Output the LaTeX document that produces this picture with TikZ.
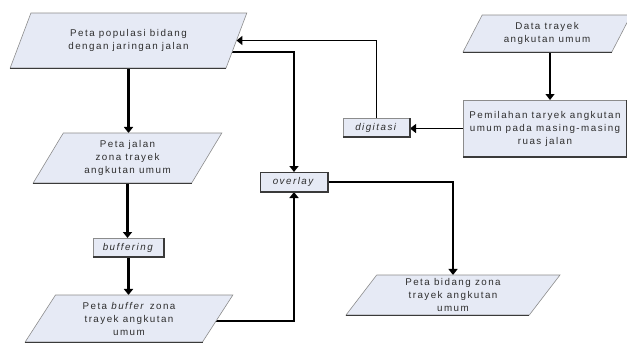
\documentclass[tikz,border=0pt]{standalone}
\usepackage{fontspec}
\setmainfont{Liberation Sans}[LetterSpace=15]
\usetikzlibrary{shapes.geometric,arrows.meta,backgrounds,calc}
\definecolor{boxfill}{HTML}{E6EAF5}
\definecolor{boxline}{HTML}{8C8C8C}
\definecolor{boxshade}{HTML}{3A3A3A}
\definecolor{txt}{HTML}{2E2E2E}
\tikzset{
  lbl/.style={font=\fontsize{9.8}{13}\selectfont, text=txt, align=center},
  dataio/.style={lbl, trapezium, trapezium left angle=60, trapezium right angle=120,
    trapezium stretches=true, draw=boxline, line width=0.6pt, fill=boxfill,
    inner sep=0pt, outer sep=0pt},
  procbox/.style={lbl, rectangle, draw=boxline, line width=0.6pt, fill=boxfill,
    inner sep=0pt, outer sep=0pt},
  shade/.style={draw=boxshade, line width=1.2pt},
  flow/.style={line width=2.2pt, -{Triangle[width=9pt,length=6pt]}},
  flowthin/.style={line width=1.1pt, -{Triangle[width=9pt,length=6pt]}},
}
\begin{document}
\begin{tikzpicture}[x=1pt, y=-1pt]
\useasboundingbox (0,0) rectangle (627,343);

% input / output maps
\node[dataio, minimum width=237pt, minimum height=55pt] (pop) at (128.5,40.5)
  {Peta populasi bidang\\dengan jaringan jalan};
\node[dataio, minimum width=189pt, minimum height=50pt] (jalan) at (127.5,158)
  {Peta jalan\\zona trayek\\angkutan umum};
\node[dataio, minimum width=208pt, minimum height=47pt] (buf) at (129,318.5)
  {Peta \textit{buffer} zona\\trayek angkutan\\umum};
\node[dataio, minimum width=214pt, minimum height=40pt] (zone) at (453,295)
  {Peta bidang zona\\trayek angkutan\\umum};
\node[dataio, minimum width=168pt, minimum height=37pt] (rute) at (547,33.5)
  {Data trayek\\angkutan umum};

% processes
\node[procbox, minimum width=164pt, minimum height=57pt] (pilih) at (545,128.5)
  {Pemilahan taryek angkutan\\umum pada masing-masing\\ruas jalan};
\node[procbox, minimum width=67pt, minimum height=19pt] (digit) at (376.5,127.5)
  {\textit{digitasi}};
\node[procbox, minimum width=71pt, minimum height=19pt] (buff) at (128.5,247.5)
  {\textit{buffering}};
\node[procbox, minimum width=68pt, minimum height=20pt] (over) at (294,182)
  {\textit{overlay}};

% darker lower and right edges
\foreach \b in {pilih,digit,buff,over}
  \draw[shade] (\b.south west) -- (\b.south east) -- (\b.north east);
\draw[shade, line width=2pt] (pilih.south west) -- (pilih.south east);
\draw[draw=boxshade, line width=0.8pt] (over.south west) rectangle (over.north east);
\foreach \p in {pop,jalan,buf,zone,rute}
  \draw[shade, line width=0.9pt] (\p.bottom left corner) -- (\p.bottom right corner);

% connector anchor points
\coordinate (popout) at ($(pop.center)+(0,11.5)$);
\coordinate (bufout) at ($(buf.center)+(0,2.5)$);
\coordinate (ruteout) at ($(rute.south)+(3,0)$);

% connectors
\begin{scope}[on background layer]
  \draw[flow] (pop.south) -- (pop.south |- jalan.north);
  \draw[flow] (popout) -| (over.north);
  \draw[flow] (jalan.south) -- (jalan.south |- buff.north);
  \draw[flow] (buff.south) -- (buff.south |- buf.north);
  \draw[flow] (bufout) -| (over.south);
  \draw[flowthin] (over.east) -| (zone.north);
  \draw[flowthin] (ruteout) -- (ruteout |- pilih.north);
  \draw[flowthin] (pilih.west) -- (pilih.west -| digit.east);
  \draw[flow, line width=1.6pt] (digit.north) |- (pop.east);
\end{scope}
\end{tikzpicture}
\end{document}
